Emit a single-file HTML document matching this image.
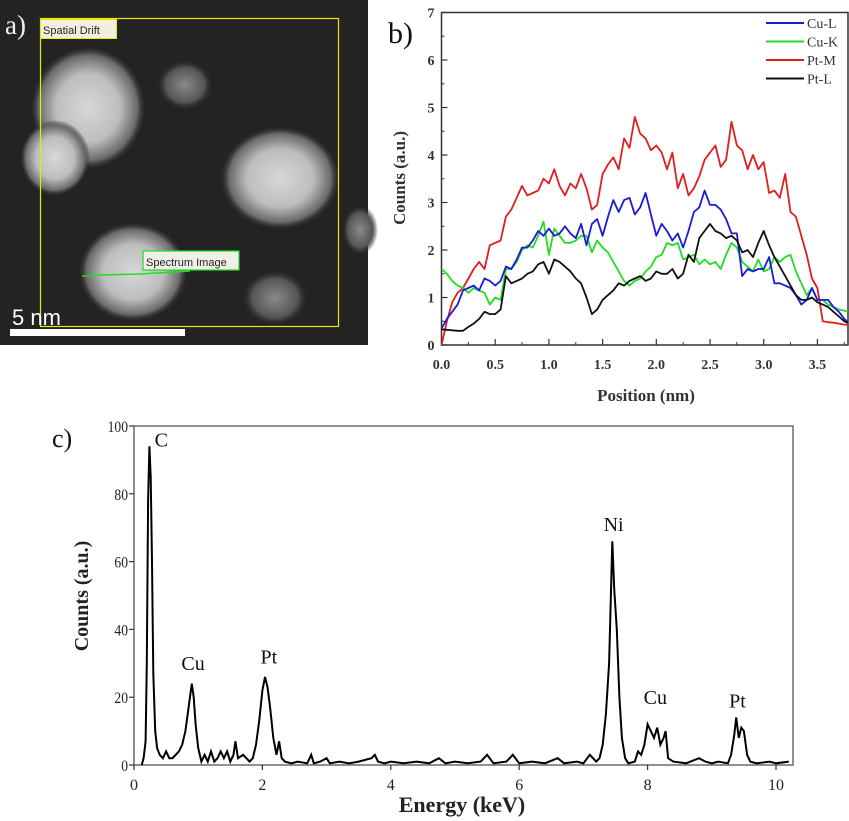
<!DOCTYPE html>
<html><head><meta charset="utf-8">
<style>
html,body{margin:0;padding:0;background:#fff;}
svg{display:block;}
text{font-family:"Liberation Serif",serif;}
</style></head>
<body>
<svg id="fig" width="849" height="821" viewBox="0 0 849 821" xmlns="http://www.w3.org/2000/svg">
<defs>
<radialGradient id="blob" cx="50%" cy="50%" r="50%">
<stop offset="0" stop-color="#d8d8d8"/><stop offset="0.55" stop-color="#bdbdbd"/><stop offset="0.85" stop-color="#6a6a6a"/><stop offset="1" stop-color="#262626" stop-opacity="0"/>
</radialGradient>
<radialGradient id="faint" cx="50%" cy="50%" r="50%">
<stop offset="0" stop-color="#8a8a8a"/><stop offset="0.7" stop-color="#555"/><stop offset="1" stop-color="#262626" stop-opacity="0"/>
</radialGradient>
</defs>
<g>
<rect x="0" y="0" width="368" height="345" fill="#232323"/>
<ellipse cx="88" cy="108" rx="58" ry="62" fill="url(#blob)"/>
<ellipse cx="55" cy="158" rx="35" ry="38" fill="url(#blob)"/>
<ellipse cx="280" cy="178" rx="60" ry="52" fill="url(#blob)"/>
<ellipse cx="133" cy="272" rx="55" ry="50" fill="url(#blob)"/>
<ellipse cx="275" cy="298" rx="33" ry="28" fill="url(#faint)"/>
<ellipse cx="185" cy="85" rx="28" ry="25" fill="url(#faint)"/>
<ellipse cx="360" cy="230" rx="18" ry="25" fill="url(#faint)"/>
<rect x="40.5" y="18.5" width="298" height="308" fill="none" stroke="#e8e800" stroke-width="1.2"/>
<rect x="40.5" y="19.5" width="76" height="19" fill="#f2f0dc" stroke="#e8e800"/>
<text x="43" y="34" font-family="Liberation Sans,sans-serif" font-size="11" fill="#222" style="font-family:'Liberation Sans',sans-serif">Spatial Drift</text>
<polyline points="82,276 100,275 140,274 175,272 190,271" fill="none" stroke="#22dd22" stroke-width="1.5"/>
<rect x="143" y="251" width="96" height="19" fill="#f0f0e8" stroke="#22dd22" stroke-width="1.2"/>
<text x="146" y="266" font-size="11" fill="#222" style="font-family:'Liberation Sans',sans-serif">Spectrum Image</text>
<text x="12" y="325" font-size="22" fill="#fff" style="font-family:'Liberation Sans',sans-serif">5 nm</text>
<rect x="10" y="329" width="175" height="7" fill="#fff"/>
<text x="5" y="34" font-size="27" fill="#f0f0f0">a)</text>
</g>
<text x="388" y="43" font-size="30" fill="#111">b)</text>
<text x="52" y="447" font-size="26" fill="#111">c)</text>
<g id="chartB"></g>
<g id="chartC"></g>
</svg>
<script>
// ---- Panel b data ----
const bPositions = [0,0.05,0.1,0.15,0.2,0.25,0.3,0.35,0.4,0.45,0.5,0.55,0.6,0.65,0.7,0.75,0.8,0.85,0.9,0.95,1.0,1.05,1.1,1.15,1.2,1.25,1.3,1.35,1.4,1.45,1.5,1.55,1.6,1.65,1.7,1.75,1.8,1.85,1.9,1.95,2.0,2.05,2.1,2.15,2.2,2.25,2.3,2.35,2.4,2.45,2.5,2.55,2.6,2.65,2.7,2.75,2.8,2.85,2.9,2.95,3.0,3.05,3.1,3.15,3.2,3.25,3.3,3.35,3.4,3.45,3.5,3.55,3.6,3.65,3.7,3.75,3.8];
const cuL = [0.35,0.55,0.7,0.85,1.15,1.2,1.25,1.15,1.4,1.35,1.25,1.35,1.65,1.6,1.8,2.05,2.05,2.2,2.4,2.3,2.45,2.3,2.35,2.5,2.35,2.25,2.55,2.1,2.55,2.65,2.3,2.7,3.05,2.8,3.05,3.1,2.75,2.9,3.2,2.75,2.3,2.55,2.4,2.2,2.35,2.05,2.4,2.8,2.9,3.25,2.95,2.95,2.85,2.65,2.35,2.35,1.45,1.6,1.55,1.6,1.6,1.85,1.3,1.3,1.25,1.2,1.05,0.85,0.95,1.2,0.95,0.95,0.95,0.8,0.7,0.55,0.45];
const cuK = [1.6,1.5,1.35,1.25,1.2,1.1,1.2,1.15,1.1,0.85,1.0,0.95,1.6,1.6,1.75,2.0,2.1,2.05,2.3,2.6,1.9,2.45,2.3,2.15,2.15,2.2,2.3,2.3,1.95,2.2,2.05,1.95,1.75,1.55,1.35,1.25,1.35,1.4,1.55,1.65,1.85,1.9,2.15,2.1,2.15,1.8,1.85,1.9,1.7,1.8,1.7,1.75,1.6,1.9,2.15,2.05,1.75,1.65,1.55,1.8,1.55,1.6,1.85,1.75,1.85,1.9,1.55,1.3,1.05,1.2,0.95,0.95,0.85,0.8,0.75,0.72,0.7];
const ptM = [0,0.5,0.9,1.1,1.2,1.4,1.6,1.75,1.6,2.1,2.15,2.2,2.7,2.85,3.1,3.35,3.15,3.2,3.25,3.5,3.4,3.7,3.35,3.15,3.4,3.3,3.6,3.3,2.85,2.95,3.6,3.8,3.95,3.7,4.35,4.15,4.8,4.45,4.35,4.1,4.2,4.05,3.7,4.05,3.3,3.6,3.15,3.3,3.55,3.9,4.05,4.2,3.75,3.9,4.7,4.2,4.1,3.7,4.0,3.7,3.85,3.2,3.25,3.1,3.6,2.8,2.7,2.3,1.9,1.4,1.2,0.5,0.48,0.47,0.45,0.43,0.42];
const ptL = [0.33,0.32,0.31,0.3,0.3,0.38,0.45,0.55,0.7,0.65,0.65,0.75,1.45,1.3,1.35,1.4,1.5,1.55,1.7,1.75,1.5,1.8,1.75,1.65,1.55,1.4,1.3,1.0,0.65,0.75,0.95,1.05,1.15,1.3,1.25,1.35,1.4,1.45,1.35,1.4,1.55,1.5,1.5,1.6,1.4,1.5,1.9,1.75,2.25,2.4,2.55,2.4,2.35,2.25,2.3,2.2,1.95,2.0,1.85,2.15,2.4,2.1,1.85,1.65,1.45,1.25,1.05,0.95,0.95,1.0,0.9,0.85,0.8,0.7,0.6,0.5,0.45];
const bSeriesNames = ["Cu-L","Cu-K","Pt-M","Pt-L"];
const bSeriesColors = ["#1a1adc","#22dd22","#e01e1e","#111111"];
const bXTicks = [0,0.5,1.0,1.5,2.0,2.5,3.0,3.5];
const bXTickLabels = ["0.0","0.5","1.0","1.5","2.0","2.5","3.0","3.5"];
const bYTicks = [0,1,2,3,4,5,6,7];
// ---- Panel c data ----
const cEnergy = [0.12,0.15,0.18,0.2,0.22,0.24,0.26,0.28,0.3,0.33,0.36,0.4,0.45,0.5,0.55,0.6,0.65,0.7,0.75,0.8,0.85,0.9,0.93,0.96,1.0,1.05,1.1,1.15,1.2,1.25,1.3,1.35,1.4,1.45,1.5,1.55,1.58,1.62,1.7,1.8,1.85,1.9,1.95,2.0,2.04,2.08,2.12,2.17,2.22,2.26,2.3,2.35,2.45,2.55,2.7,2.76,2.8,2.9,3.0,3.05,3.2,3.35,3.5,3.7,3.75,3.8,3.9,4.0,4.2,4.4,4.6,4.75,4.85,5.0,5.2,5.4,5.5,5.6,5.8,5.9,6.0,6.2,6.4,6.6,6.7,6.9,7.0,7.1,7.2,7.25,7.3,7.35,7.4,7.45,7.48,7.52,7.56,7.6,7.65,7.7,7.8,7.85,7.9,7.95,8.0,8.05,8.1,8.15,8.2,8.25,8.28,8.32,8.4,8.6,8.8,8.9,9.0,9.1,9.25,9.3,9.35,9.38,9.42,9.46,9.5,9.55,9.6,9.7,9.9,10.0,10.2];
const cCounts = [0,2,7,30,78,94,85,60,27,10,5,3,2,4,2,2,3,4,6,10,17,24,20,12,5,1,3,1,4,1,2,4,2,4,1,3,7,2,3,1,2,6,13,22,26,23,17,8,3,7,2,1,0.5,1,0.5,3,0.5,1,2,0.5,1,0.5,1,2,3,1,0.5,1,0.5,1,0.5,2,0.5,1,0.5,1,3,0.5,1,3,0.5,1,0.5,2,0.5,1,0.5,3,1,2,6,15,30,66,52,40,20,8,2,0.5,1,4,3,6,12,10,8,11,6,8,10,2,1,0.5,2,1,0.5,1,0.5,3,9,14,8,11,10,3,1,0.5,1,0.5,1];
const cXTicks = [0,2,4,6,8,10];
const cYTicks = [0,20,40,60,80,100];
const cPeakNames = ["C","Cu","Pt","Ni","Cu","Pt"];
const cPeakEnergy = [0.27,0.92,2.1,7.47,8.12,9.4];
const cPeakLabelCounts = [94,28,30,69,18,17];

const NS = "http://www.w3.org/2000/svg";
function mk(parent, tag, attrs, txt){
  const e = document.createElementNS(NS, tag);
  for (const k in attrs) e.setAttribute(k, attrs[k]);
  if (txt !== undefined) e.textContent = txt;
  parent.appendChild(e);
  return e;
}

// ===== Chart B =====
(function(){
  const g = document.getElementById('chartB');
  const L=441.5, R=848, T=12.5, B=345;
  const bx = v => L + v*107.4;
  const by = v => B - v*(B-T)/7;
  const frame = mk(g,'rect',{x:L,y:T,width:R-L,height:B-T,fill:'none',stroke:'#333','stroke-width':1.5});
  
  
  for (let i=0;i<bYTicks.length;i++){
    const t=bYTicks[i];
    const tk = mk(g,'line',{x1:L,x2:L+6,y1:by(t),y2:by(t),stroke:'#333','stroke-width':1.2});
    
    
    if (t<7){
      const mt = mk(g,'line',{x1:L,x2:L+3,y1:by(t+0.5),y2:by(t+0.5),stroke:'#333','stroke-width':1});
      
      
    }
    const lb = mk(g,'text',{x:L-7,y:by(t)+5,'text-anchor':'end','font-size':14,'font-weight':'bold',fill:'#333'},String(t));
    
    
  }
  for (let i=0;i<bXTicks.length;i++){
    const t=bXTicks[i];
    const tk = mk(g,'line',{x1:bx(t),x2:bx(t),y1:B,y2:B-6,stroke:'#333','stroke-width':1.2});
    
    
    const mt = mk(g,'line',{x1:bx(t+0.25),x2:bx(t+0.25),y1:B,y2:B-3,stroke:'#333','stroke-width':1});
    
    
    const lb = mk(g,'text',{x:bx(t),y:B+24,'text-anchor':'middle','font-size':14,'font-weight':'bold',fill:'#333'},bXTickLabels[i]);
    
    
  }
  const yt = mk(g,'text',{x:0,y:0,transform:'translate(405,178) rotate(-90)','text-anchor':'middle','font-size':17,'font-weight':'bold',fill:'#333'},'Counts (a.u.)');
  
  
  const xt = mk(g,'text',{x:646,y:401,'text-anchor':'middle','font-size':17,'font-weight':'bold',fill:'#333'},'Position (nm)');
  
  
  const clip = mk(g,'clipPath',{id:'clipB'});
  mk(clip,'rect',{x:L,y:T,width:R-L,height:B-T+2});
  const series=[cuL,cuK,ptM,ptL];
  const order=[2,1,0,3];
  for (const si of order){
    const pts = bPositions.map((p,i)=>bx(p).toFixed(1)+','+by(series[si][i]).toFixed(1)).join(' ');
    const pl = mk(g,'polyline',{points:pts,fill:'none',stroke:bSeriesColors[si],'stroke-width':1.8,'clip-path':'url(#clipB)','stroke-linejoin':'round'});
    
    
  }
  for (let i=0;i<bSeriesNames.length;i++){
    const y=23+i*18.5;
    const ll = mk(g,'line',{x1:766,x2:804,y1:y,y2:y,stroke:bSeriesColors[i],'stroke-width':2});
    
    
    const lt = mk(g,'text',{x:807,y:y+5,'font-size':14,fill:'#333'},bSeriesNames[i]);
    
    
  }
})();

// ===== Chart C =====
(function(){
  const g = document.getElementById('chartC');
  const L=134, R=793, T=426, B=765;
  const cx = v => L + v*64.2;
  const cy = v => B - v*(B-T)/100;
  const frame = mk(g,'rect',{x:L,y:T,width:R-L,height:B-T,fill:'none',stroke:'#555','stroke-width':1.3});
  
  
  for (const t of cYTicks){
    const tk = mk(g,'line',{x1:L-5,x2:L,y1:cy(t),y2:cy(t),stroke:'#333','stroke-width':1.2});
    
    
    const lb = mk(g,'text',{x:L-6,y:cy(t)+6,'text-anchor':'end','font-size':16,fill:'#222',transform:'translate('+(L-6)+',0) scale(0.85,1) translate('+(-(L-6))+',0)'},String(t));
    
    
  }
  for (const t of cXTicks){
    const tk = mk(g,'line',{x1:cx(t),x2:cx(t),y1:B,y2:B+5,stroke:'#333','stroke-width':1.2});
    
    
    const lb = mk(g,'text',{x:cx(t),y:B+25,'text-anchor':'middle','font-size':16,fill:'#222'},String(t));
    
    
  }
  const yt = mk(g,'text',{x:0,y:0,transform:'translate(88,596) rotate(-90)','text-anchor':'middle','font-size':20,'font-weight':'bold',fill:'#222'},'Counts (a.u.)');
  
  
  const xt = mk(g,'text',{x:462,y:812,'text-anchor':'middle','font-size':22,'font-weight':'bold',fill:'#222'},'Energy (keV)');
  
  
  const pts = cEnergy.map((e,i)=>cx(e).toFixed(1)+','+cy(cCounts[i]).toFixed(1)).join(' ');
  const pl = mk(g,'polyline',{points:pts,fill:'none',stroke:'#000','stroke-width':2,'stroke-linejoin':'miter'});
  
  
  for (let i=0;i<cPeakNames.length;i++){
    const lb = mk(g,'text',{x:cx(cPeakEnergy[i])+(i===0?10:0),y:cy(cPeakLabelCounts[i]),'text-anchor':'middle','font-size':20,fill:'#111'},cPeakNames[i]);
    
    
  }
})();
</script>
</body></html>
